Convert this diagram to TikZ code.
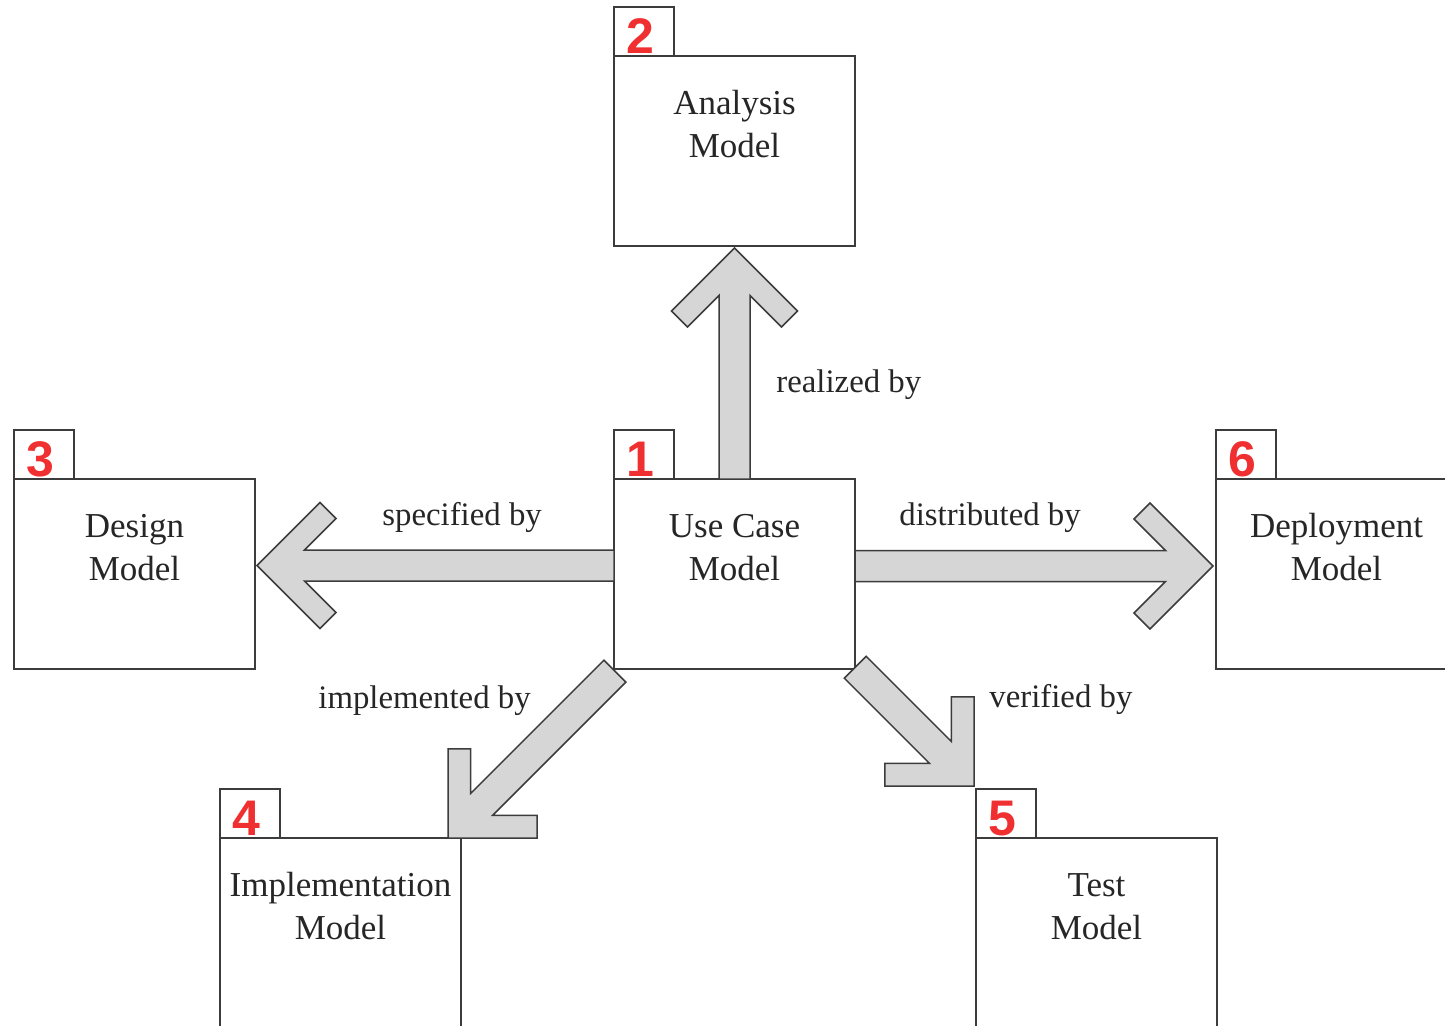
\documentclass[tikz,border=0pt]{standalone}
\usepackage{fontspec}
\setmainfont{Liberation Serif}
\newfontfamily\numfont{Liberation Sans}
\definecolor{linegray}{RGB}{60,60,60}
\definecolor{arrowfill}{RGB}{214,214,214}
\definecolor{numred}{RGB}{240,48,48}

% package symbol: body, tab on top left, number in the tab, name in the body
% (the name node's base anchor sits on the baseline of its last line)
\newcommand{\pkgbox}[5]{%
  \node[pkgbody] (#1) at (#2,#3) {};
  \node[pkgtab] (#1-tab) at (#1.north west) {};
  \node[pkgnum] (#1-num) at ([xshift=-2pt,yshift=1.5pt]#1-tab.south) {#4};
  \node[pkgtext] (#1-text) at ([yshift=-50.5pt]#1.north) {#5};
}

\begin{document}
\begin{tikzpicture}[x=0.5pt,y=-0.5pt,
  pkgbody/.style={draw=linegray, line width=1pt, fill=white, anchor=north west,
    minimum width=120.5pt, minimum height=95pt, inner sep=0pt, outer sep=0pt},
  pkgtab/.style={draw=linegray, line width=1pt, fill=white, anchor=south west,
    minimum width=30pt, minimum height=24.5pt, inner sep=0pt, outer sep=0pt},
  pkgnum/.style={anchor=base, inner sep=0pt, text=numred,
    font=\numfont\bfseries\fontsize{25}{25}\selectfont},
  pkgtext/.style={anchor=base, align=center, inner sep=0pt, text=black!85,
    font=\fontsize{17.5}{21.5}\selectfont},
  relabel/.style={anchor=base west, inner sep=0pt, text=black!85,
    font=\fontsize{16.4}{20}\selectfont},
  arrowbody/.style={draw=linegray, line width=0.75pt, fill=arrowfill, line join=miter},
  pics/blockarrow/.style={code={
    \draw[arrowbody] (0,0) -- (-63,63) -- (-79,47) -- (-47.5,15.5) -- (-#1,15.5)
      -- (-#1,-15.5) -- (-47.5,-15.5) -- (-79,-47) -- (-63,-63) -- cycle;
  }}]
\useasboundingbox (0,0) rectangle (1445,1025);
\clip (0,0) rectangle (1445,1025);

% packages
\pkgbox{uc}{614}{479}{1}{Use Case\\Model}
\pkgbox{an}{614}{56}{2}{Analysis\\Model}
\pkgbox{de}{14}{479}{3}{Design\\Model}
\pkgbox{im}{220}{838}{4}{Implementation\\Model}
\pkgbox{te}{976}{838}{5}{Test\\Model}
\pkgbox{dp}{1216}{479}{6}{Deployment\\Model}

% block arrows, tip at the target package
\pic[rotate=90]  at ([yshift=-1pt]an.south) {blockarrow=231};
\pic[rotate=180] at ([xshift=1pt,yshift=4.25pt]de.east) {blockarrow=357};
\pic             at ([xshift=-1.5pt,yshift=4pt]dp.west) {blockarrow=358};
\pic[rotate=225] at ([xshift=-6.5pt]im.north east) {blockarrow=236};
\pic[rotate=-45] at ([xshift=-1pt,yshift=1.5pt]te-tab.north west) {blockarrow=168};

% relation labels
\node[relabel] (l-real) at (776,392) {realized by};
\node[relabel] (l-spec) at (382,525) {specified by};
\node[relabel] (l-dist) at (899,525) {distributed by};
\node[relabel] (l-impl) at (318,708) {implemented by};
\node[relabel] (l-veri) at (989,707) {verified by};
\end{tikzpicture}
\end{document}
